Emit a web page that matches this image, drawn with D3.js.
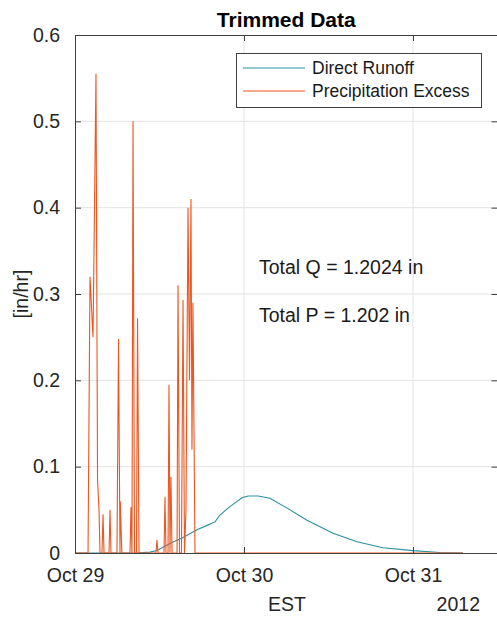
<!DOCTYPE html>
<html>
<head>
<meta charset="utf-8">
<script src="https://cdn.jsdelivr.net/npm/d3@7"></script>
<style>
  body { margin: 0; background: #fff; }
  svg { font-family: "Liberation Sans", Arial, sans-serif; }
</style>
</head>
<body>
<svg width="497" height="618"></svg>
<script>
// hours after Oct 29 2012 00:00 EST
var precipHours = [0, 1.85, 2.13, 2.56, 2.98, 3.2, 3.41, 3.55, 3.83, 3.98, 4.12, 4.83, 4.97, 5.11,
  5.96, 6.18, 6.39, 6.43, 6.65, 7.81, 7.95, 8.09, 8.24, 8.45, 8.73, 8.88, 9.09, 11.5, 11.64, 11.79,
  12.64, 12.78, 12.92, 13.21, 13.35, 13.49, 13.63, 13.78, 14.49, 14.63, 14.84, 15.12, 15.34, 15.55,
  15.76, 16.05, 16.26, 16.47, 16.61, 16.75, 17.04, 55.1];
var precipValues = [0, 0, 0.32, 0.25, 0.555, 0.085, 0.05, 0, 0, 0.045, 0, 0, 0.05, 0,
  0, 0.248, 0, 0.06, 0, 0, 0.053, 0, 0.5, 0, 0, 0.272, 0, 0, 0.015, 0,
  0, 0.065, 0, 0, 0.195, 0, 0.088, 0, 0, 0.31, 0, 0, 0.293, 0,
  0.05, 0.40, 0.20, 0.41, 0.12, 0.29, 0, 0];

var runoffHours = [0, 8.5, 10.65, 11.64, 13.49, 15.34, 17.33, 18.75, 19.88, 20.59, 21.73, 22.72, 23.72,
  24.57, 25.99, 27.69, 30.11, 32.95, 36.64, 40.05, 43.74, 48.0, 51.83, 55.1];
var runoffValues = [0, 0, 0.001, 0.003, 0.011, 0.018, 0.027, 0.032, 0.036, 0.044, 0.052, 0.058, 0.064,
  0.066, 0.066, 0.0635, 0.052, 0.038, 0.023, 0.013, 0.006, 0.0027, 0.0005, 0];

var yTicks = [0, 0.1, 0.2, 0.3, 0.4, 0.5, 0.6];
var xTickDays = [29, 30, 31];
var seriesNames = ['Direct Runoff', 'Precipitation Excess'];
var seriesColors = ['#2a8f9e', '#ec5621'];
var totals = ['Total Q = 1.2024 in', 'Total P = 1.202 in'];

var start = new Date(2012, 9, 29, 0, 0);
function toDate(h) { return new Date(start.getTime() + h * 3600000); }

var svg = d3.select('svg');
var plotLeft = 75, plotRight = 497.5, plotTop = 35, plotBottom = 553;

var x = d3.scaleTime()
    .domain([start, new Date(2012, 9, 31, 12, 0)])
    .range([plotLeft, plotRight]);
var y = d3.scaleLinear()
    .domain([0, 0.6])
    .range([plotBottom, plotTop]);

var tickDates = xTickDays.map(function(d) { return new Date(2012, 9, d); });

// grid
svg.append('g')
  .selectAll('line')
  .data(tickDates.slice(1))
  .enter().append('line')
    .attr('x1', function(d) { return x(d); })
    .attr('x2', function(d) { return x(d); })
    .attr('y1', plotTop).attr('y2', plotBottom)
    .attr('stroke', '#e3e3e3');
svg.append('g')
  .selectAll('line')
  .data(yTicks.slice(1, -1))
  .enter().append('line')
    .attr('x1', plotLeft).attr('x2', plotRight)
    .attr('y1', function(d) { return y(d); })
    .attr('y2', function(d) { return y(d); })
    .attr('stroke', '#e3e3e3');

var line = d3.line()
    .x(function(d) { return x(toDate(d[0])); })
    .y(function(d) { return y(d[1]); });

var runoff = d3.zip(runoffHours, runoffValues);
var precip = d3.zip(precipHours, precipValues);

svg.append('path')
    .datum(runoff)
    .attr('d', line)
    .attr('fill', 'none')
    .attr('stroke', seriesColors[0])
    .attr('stroke-width', 1.1);

svg.append('path')
    .datum(precip)
    .attr('d', line)
    .attr('fill', 'none')
    .attr('stroke', seriesColors[1])
    .attr('stroke-width', 1.1);

// axes (ticks inside, box on)
var tickLen = 6;
function styleAxis(g) {
  g.select('.domain').attr('stroke', '#404040');
  g.selectAll('.tick line').attr('stroke', '#404040');
  g.selectAll('.tick text').attr('font-size', 19.5).attr('fill', '#262626');
}
svg.append('g')
    .attr('transform', 'translate(0,' + plotBottom + ')')
    .call(d3.axisBottom(x).tickValues(tickDates).tickSizeInner(-tickLen).tickSizeOuter(0)
      .tickPadding(15).tickFormat(d3.timeFormat('%b %d')))
    .call(styleAxis);
svg.append('g')
    .attr('transform', 'translate(0,' + plotTop + ')')
    .call(d3.axisTop(x).tickValues(tickDates).tickSizeInner(-tickLen).tickSizeOuter(0).tickFormat(''))
    .call(styleAxis);
svg.append('g')
    .attr('transform', 'translate(' + plotLeft + ',0)')
    .call(d3.axisLeft(y).tickValues(yTicks).tickSizeInner(-tickLen).tickSizeOuter(0)
      .tickPadding(15).tickFormat(function(d) { return d === 0 ? '0' : d3.format('.1f')(d); }))
    .call(styleAxis);
svg.append('g')
    .attr('transform', 'translate(' + plotRight + ',0)')
    .call(d3.axisRight(y).tickValues(yTicks).tickSizeInner(-tickLen).tickSizeOuter(0).tickFormat(''))
    .call(styleAxis);

// labels
svg.append('text')
    .attr('x', (plotLeft + plotRight) / 2).attr('y', 27)
    .attr('text-anchor', 'middle')
    .attr('font-size', 21).attr('font-weight', 'bold')
    .attr('fill', '#000')
    .text('Trimmed Data');
svg.append('text')
    .attr('transform', 'translate(28,' + (plotTop + plotBottom) / 2 + ') rotate(-90)')
    .attr('text-anchor', 'middle')
    .attr('font-size', 19.5).attr('fill', '#262626')
    .text('[in/hr]');
svg.append('text')
    .attr('x', 287).attr('y', 611)
    .attr('text-anchor', 'middle')
    .attr('font-size', 19.5).attr('fill', '#262626')
    .text('EST');
svg.append('text')
    .attr('x', 480).attr('y', 611)
    .attr('text-anchor', 'end')
    .attr('font-size', 19.5).attr('fill', '#262626')
    .text('2012');

svg.selectAll('text.total')
  .data(totals)
  .enter().append('text')
    .attr('class', 'total')
    .attr('x', 259)
    .attr('y', function(d, i) { return 274 + i * 48; })
    .attr('font-size', 19.5).attr('fill', '#1a1a1a')
    .text(function(d) { return d; });

// legend
var legend = svg.append('g');
legend.append('rect')
    .attr('x', 236.5).attr('y', 53.5)
    .attr('width', 245).attr('height', 54)
    .attr('fill', '#fff').attr('stroke', '#404040');
var entry = legend.selectAll('g.entry')
  .data(seriesNames)
  .enter().append('g')
    .attr('class', 'entry')
    .attr('transform', function(d, i) { return 'translate(0,' + (68 + i * 23) + ')'; });
entry.append('line')
    .attr('x1', 243).attr('x2', 305)
    .attr('stroke', function(d, i) { return seriesColors[i]; })
    .attr('stroke-width', 1.1);
entry.append('text')
    .attr('x', 312).attr('dy', '0.36em')
    .attr('font-size', 17.5).attr('fill', '#1a1a1a')
    .text(function(d) { return d; });
</script>
</body>
</html>
